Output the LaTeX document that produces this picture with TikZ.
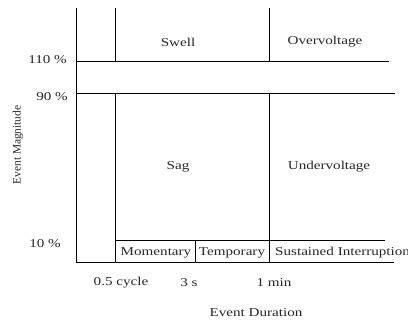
\documentclass[tikz,border=0pt]{standalone}
\usepackage{fontspec}
\setmainfont[FakeStretch=1.26]{Liberation Serif}
\newfontfamily\plainserif{Liberation Serif}
\begin{document}
\begin{tikzpicture}[x=1pt,y=-1pt,
  ln/.style={line width=1pt,black},
  lbl/.style={inner sep=0pt,font=\fontsize{12}{14}\selectfont,text=black!85}]
\useasboundingbox (0,0) rectangle (408,324);
% coordinates
\coordinate (tl) at (76,8);
\coordinate (bl) at (76,262);
\coordinate (br) at (394,262);
% main lines
\draw[ln] (tl) -- (bl) -- (br);
\draw[ln] (76,61.7) -- (389,61.7);
\draw[ln] (76,93.3) -- (395,93.3);
\draw[ln] (115.7,8) -- (115.7,61.7);
\draw[ln] (115.7,93.3) -- (115.7,262);
\draw[ln] (269,8) -- (269,61.7);
\draw[ln] (269,93.3) -- (269,262);
\draw[ln] (115.7,240.7) -- (385,240.7);
\draw[ln] (195.5,240.7) -- (195.5,262);
% labels
\node[lbl] (swell) at (178,42) {Swell};
\node[lbl] (over) at (325,42) {Overvoltage};
\node[lbl] (p110) at (47.5,60) {110 \%};
\node[lbl] (p90) at (52,97) {90 \%};
\node[lbl] (sag) at (178,167) {Sag};
\node[lbl] (under) at (329,167) {Undervoltage};
\node[lbl] (p10) at (45,244) {10 \%};
\node[lbl] (mom) at (156,253) {Momentary};
\node[lbl] (temp) at (232,253) {Temporary};
\node[lbl,anchor=west] (sust) at (275,253) {Sustained Interruption};
\node[lbl] (cyc) at (121,283) {0.5 cycle};
\node[lbl] (s3) at (189,283) {3 s};
\node[lbl] (min) at (274,283) {1 min};
\node[lbl] (dur) at (256,313) {Event Duration};
\node[inner sep=0pt,rotate=90,font=\plainserif\fontsize{11.4}{13}\selectfont,text=black!85] (mag) at (18,145) {Event Magnitude};
\end{tikzpicture}
\end{document}
